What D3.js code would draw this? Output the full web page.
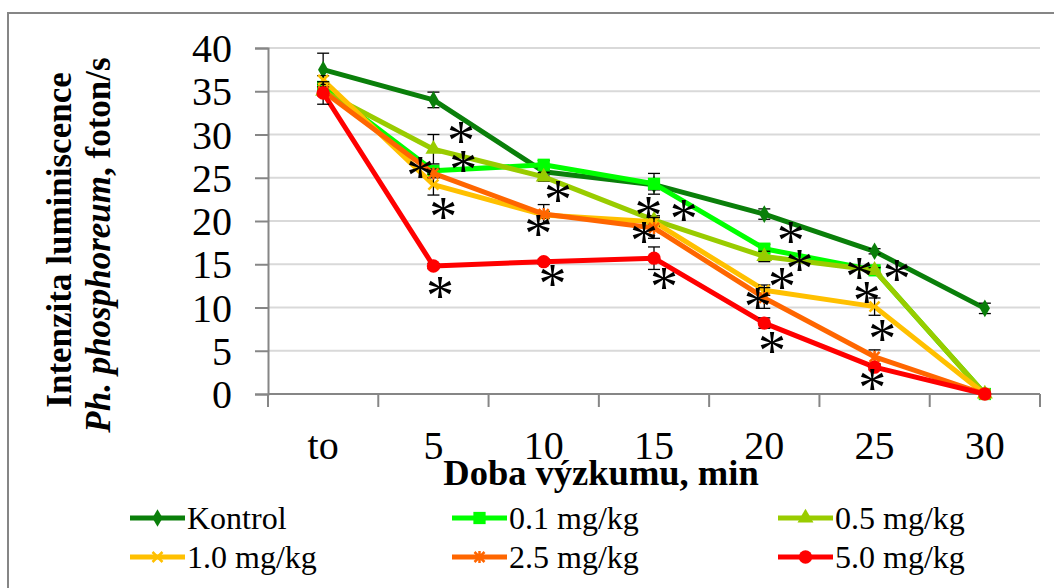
<!DOCTYPE html>
<html>
<head>
<meta charset="utf-8">
<script src="https://cdn.jsdelivr.net/npm/d3@7"></script>
<style>
  html, body { margin: 0; padding: 0; background: #fff; }
  svg { display: block; font-family: "Liberation Serif", "Times New Roman", serif; }
</style>
</head>
<body>
<svg id="chart" width="1054" height="588"></svg>
<script>
// Time points (min) and tick values
const categories = ["to", "5", "10", "15", "20", "25", "30"];
const yTicks = [0, 5, 10, 15, 20, 25, 30, 35, 40];

// Luminescence intensity per group
const kontrol = [37.5, 34.0, 25.7, 24.2, 20.8, 16.5, 9.9];
const dose01  = [35.5, 25.8, 26.5, 24.3, 16.8, 14.3, 0];
const dose05  = [35.0, 28.3, 25.1, 20.1, 15.9, 14.3, 0];
const dose10  = [36.3, 24.2, 20.7, 19.9, 12.0, 10.1, 0];
const dose25  = [35.0, 25.5, 20.8, 19.2, 11.1, 4.3, 0];
const dose50  = [34.8, 14.8, 15.3, 15.7, 8.2, 3.1, 0];

// Standard deviations
const errKontrol = [1.9, 0.9, 0.5, 0.6, 0.6, 0.3, 0.6];
const err01      = [0.5, 0.3, 0.5, 1.2, 0.5, 0.4, 0];
const err05      = [0.5, 1.7, 0.5, 0.5, 0.6, 0.3, 0];
const err10      = [0.5, 1.2, 0.4, 0.5, 0.6, 1.0, 0];
const err25      = [0.5, 0.5, 1.1, 1.2, 1.2, 0.8, 0];
const err50      = [1.3, 0.3, 0.3, 1.3, 0.6, 0.3, 0];

const seriesNames = ["Kontrol", "0.1 mg/kg", "0.5 mg/kg", "1.0 mg/kg", "2.5 mg/kg", "5.0 mg/kg"];

// Significance marks: [time index (fractional), intensity]
const significance = [
  [1.25, 30.3], [1.27, 26.9], [0.88, 26.2], [1.09, 21.5], [1.06, 12.4],
  [2.13, 23.5], [1.95, 19.5], [2.08, 13.8],
  [2.95, 21.6], [2.91, 18.7], [3.27, 21.3], [3.09, 13.4],
  [4.24, 18.7], [4.32, 15.5], [4.16, 13.4], [3.94, 11.1], [4.07, 6.0],
  [4.86, 14.6], [5.20, 14.3], [4.93, 11.8], [5.07, 7.4], [4.98, 1.7]
];

// Visual style of each group
const styles = [
  { color: "#0a7f0a", marker: "diamond" },
  { color: "#00ff00", marker: "square" },
  { color: "#99cc00", marker: "triangle" },
  { color: "#ffc000", marker: "cross" },
  { color: "#ff6600", marker: "star" },
  { color: "#ff0000", marker: "circle" }
];

const seriesValues = [kontrol, dose01, dose05, dose10, dose25, dose50];
const seriesErrors = [errKontrol, err01, err05, err10, err25, err50];
const series = seriesNames.map((name, i) => ({
  name, values: seriesValues[i], errors: seriesErrors[i], ...styles[i]
}));

const svg = d3.select("#chart");
const plot = { left: 268, right: 1040, top: 48, bottom: 394 };
const axisGray = "#868686";

const x = d3.scaleBand().domain(categories).range([plot.left, plot.right]).padding(0);
const xIdx = d3.scaleLinear().domain([-0.5, categories.length - 0.5]).range([plot.left, plot.right]);
const y = d3.scaleLinear().domain([0, 40]).range([plot.bottom, plot.top]);
const cx = c => x(c) + x.bandwidth() / 2;

// Outer frame
svg.append("rect")
  .attr("x", 8).attr("y", 13).attr("width", 1060).attr("height", 600)
  .attr("fill", "none").attr("stroke", axisGray).attr("stroke-width", 2);

// Horizontal gridlines
svg.append("g").selectAll("line")
  .data(yTicks.filter(t => t > 0))
  .join("line")
  .attr("x1", plot.left).attr("x2", plot.right)
  .attr("y1", d => y(d)).attr("y2", d => y(d))
  .attr("stroke", "#d9d9d9").attr("stroke-width", 2);

// Y axis
const yAxis = svg.append("g")
  .attr("transform", `translate(${plot.left},0)`)
  .call(d3.axisLeft(y).tickValues(yTicks).tickSize(13).tickPadding(23).tickFormat(d3.format("d")));
yAxis.select(".domain").attr("stroke", axisGray).attr("stroke-width", 2);
yAxis.selectAll(".tick line").attr("stroke", axisGray).attr("stroke-width", 2);
yAxis.selectAll(".tick text")
  .attr("font-family", "Liberation Serif").attr("font-size", 40).attr("fill", "#000")
  .attr("dy", "0.34em");

// X axis: ticks between categories
const xAxisG = svg.append("g");
xAxisG.append("line")
  .attr("x1", plot.left).attr("x2", plot.right)
  .attr("y1", plot.bottom).attr("y2", plot.bottom)
  .attr("stroke", axisGray).attr("stroke-width", 2);
const boundaries = categories.map(c => x(c)).concat([plot.right]);
xAxisG.selectAll("line.tk")
  .data(boundaries)
  .join("line").attr("class", "tk")
  .attr("x1", d => d).attr("x2", d => d)
  .attr("y1", plot.bottom).attr("y2", plot.bottom + 13)
  .attr("stroke", axisGray).attr("stroke-width", 2);
xAxisG.selectAll("text")
  .data(categories)
  .join("text")
  .attr("x", d => cx(d)).attr("y", 459)
  .attr("text-anchor", "middle")
  .attr("font-size", 40)
  .text(d => d);

// Axis titles
svg.append("text")
  .attr("x", 601).attr("y", 485)
  .attr("text-anchor", "middle")
  .attr("font-size", 36.5).attr("font-weight", "bold")
  .text("Doba výzkumu, min");

const yTitle = svg.append("g").attr("font-weight", "bold").attr("font-size", 35);
yTitle.append("text")
  .attr("transform", "translate(71,240) rotate(-90)")
  .attr("text-anchor", "middle")
  .text("Intenzita luminiscence");
const yt2 = yTitle.append("text")
  .attr("transform", "translate(110,245) rotate(-90)")
  .attr("text-anchor", "middle");
yt2.append("tspan").attr("font-style", "italic").text("Ph. phosphoreum");
yt2.append("tspan").text(", foton/s");

// Marker drawing
function markerPath(type) {
  switch (type) {
    case "diamond":  return d3.symbol(d3.symbolDiamond, 90)();
    case "square":   return d3.symbol(d3.symbolSquare, 150)();
    case "triangle": return d3.symbol(d3.symbolTriangle, 110)();
    case "circle":   return d3.symbol(d3.symbolCircle, 140)();
    case "cross":    return "M-5,-5L5,5M-5,5L5,-5";
    case "star":     return "M-5,-5L5,5M-5,5L5,-5M0,-6L0,6";
  }
}
function drawMarker(g, type, color) {
  const open = type === "cross" || type === "star";
  g.append("path")
    .attr("d", markerPath(type))
    .attr("fill", open ? "none" : color)
    .attr("stroke", color)
    .attr("stroke-width", open ? 2.5 : 0);
}

const line = d3.line()
  .x((d, i) => cx(categories[i]))
  .y(d => y(d));

const seriesG = svg.append("g");
series.forEach(s => {
  const g = seriesG.append("g");
  g.append("path")
    .attr("d", line(s.values))
    .attr("fill", "none")
    .attr("stroke", s.color)
    .attr("stroke-width", 5)
    .attr("stroke-linejoin", "round");
  // error bars
  const eb = g.append("g").attr("stroke", "#000").attr("stroke-width", 1.3);
  s.values.forEach((v, i) => {
    const e = s.errors[i];
    if (!e) return;
    const px = cx(categories[i]);
    eb.append("line").attr("x1", px).attr("x2", px).attr("y1", y(v + e)).attr("y2", y(v - e));
    eb.append("line").attr("x1", px - 6).attr("x2", px + 6).attr("y1", y(v + e)).attr("y2", y(v + e));
    eb.append("line").attr("x1", px - 6).attr("x2", px + 6).attr("y1", y(v - e)).attr("y2", y(v - e));
  });
  s.values.forEach((v, i) => {
    const mg = g.append("g").attr("transform", `translate(${cx(categories[i])},${y(v)})`);
    drawMarker(mg, s.marker, s.color);
  });
});

// Significance asterisks
svg.append("g").selectAll("text")
  .data(significance)
  .join("text")
  .attr("x", d => xIdx(d[0]))
  .attr("y", d => y(d[1]))
  .attr("dy", "0.5em")
  .attr("text-anchor", "middle")
  .attr("font-size", 56)
  .attr("fill", "#000")
  .text("*");

// Legend
const legendCols = [130, 452, 778];
const legendRows = [518, 557];
const legend = svg.append("g");
series.forEach((s, i) => {
  const lx = legendCols[i % 3];
  const ly = legendRows[Math.floor(i / 3)];
  const g = legend.append("g").attr("transform", `translate(${lx},${ly})`);
  g.append("line").attr("x1", 0).attr("x2", 55).attr("y1", 0).attr("y2", 0)
    .attr("stroke", s.color).attr("stroke-width", 5);
  const mg = g.append("g").attr("transform", "translate(27.5,0)");
  drawMarker(mg, s.marker, s.color);
  g.append("text")
    .attr("x", 57).attr("y", 0).attr("dy", "0.35em")
    .attr("font-size", 32)
    .text(s.name);
});
</script>
</body>
</html>
